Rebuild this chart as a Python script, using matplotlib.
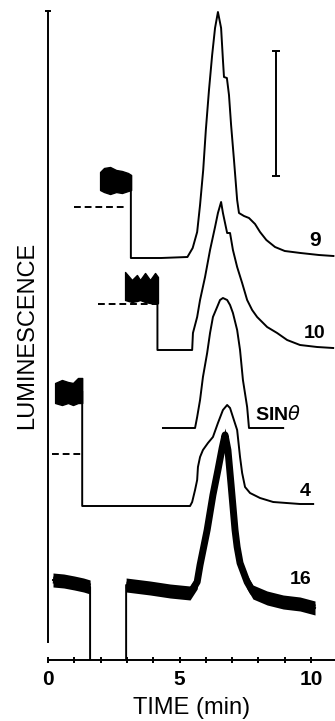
import matplotlib.pyplot as plt

# luminescence traces (time in min, luminescence in arbitrary units)
t9 = [3.15, 3.15, 4.3, 5.3, 5.5, 5.67, 5.78, 5.9, 6.0, 6.12, 6.24, 6.35, 6.46, 6.58, 6.65, 6.69, 6.8, 6.88,
      6.96, 7.07, 7.19, 7.26, 7.45, 7.64, 7.87, 8.06, 8.3, 8.63, 9.0, 9.6, 10.3, 10.85]
lum9 = [475, 402, 402, 403, 412, 428, 455, 490, 530, 570, 605, 632, 648, 632, 600, 583, 582, 565,
        535, 500, 460, 447, 444, 442, 436, 428, 420, 413, 409, 407, 405, 404]

t10 = [4.16, 4.16, 5.48, 5.51, 5.67, 5.78, 5.97, 6.16, 6.35, 6.46, 6.58, 6.65, 6.81, 6.92, 7.03, 7.19, 7.38,
       7.57, 7.76, 7.95, 8.33, 8.71, 9.09, 9.58, 10.23, 10.84]
lum10 = [375, 310, 310, 327, 343, 360, 383, 410, 433, 447, 458, 447, 427, 427, 410, 393, 377,
         360, 350, 343, 333, 327, 320, 315, 313, 312]

t_sin = [4.37, 5.59, 5.67, 5.78, 5.89, 6.05, 6.16, 6.27, 6.43, 6.54, 6.65, 6.81, 6.92, 7.03, 7.19, 7.3,
         7.41, 7.57, 7.64, 8.94]
lum_sin = [232, 232, 243, 260, 283, 307, 327, 343, 353, 360, 362, 360, 355, 347, 330, 310,
           280, 253, 232, 232]

t4 = [1.3, 1.3, 5.4, 5.48, 5.59, 5.67, 5.7, 5.78, 5.89, 6.08, 6.27, 6.46, 6.65, 6.81, 6.92, 7.03, 7.19,
      7.3, 7.38, 7.49, 7.68, 8.06, 8.56, 9.58, 10.08]
lum4 = [268, 154, 154, 158, 170, 180, 193, 203, 210, 217, 223, 237, 250, 255, 252, 243, 230,
        203, 187, 173, 167, 162, 158, 156, 156]

t16a = [0.19, 0.6, 1.0, 1.35, 1.6, 1.6]
lum16a = [80, 79, 77, 75, 73, 0]
t16b = [2.97, 2.97, 3.88, 4.64, 5.4, 5.67, 5.78, 6.05, 6.27, 6.46, 6.62, 6.73, 6.84, 6.96, 7.11, 7.19,
        7.3, 7.57, 7.79, 8.33, 8.94, 9.58, 10.15]
lum16b = [0, 75, 72, 69, 67, 78, 95, 130, 165, 190, 212, 225, 210, 175, 130, 113,
          97, 78, 68, 62, 58, 56, 52]

# noisy reference blocks (upper / lower edges)
blk9_t = [1.98, 2.13, 2.36, 2.59, 2.81, 3.04, 3.16]
blk9_hi = [488, 492, 493, 490, 489, 487, 485]
blk9_lo = [470, 468, 466, 468, 467, 469, 470]
blk10_t = [2.93, 3.19, 3.38, 3.5, 3.69, 3.88, 4.07, 4.18]
blk10_hi = [388, 380, 385, 380, 387, 380, 387, 383]
blk10_lo = [360, 358, 359, 360, 358, 357, 358, 357]
blk4_t = [0.27, 0.53, 0.76, 0.95, 1.14, 1.3]
blk4_hi = [277, 280, 278, 277, 282, 282]
blk4_lo = [257, 255, 257, 255, 257, 257]

# dashed zero levels
dash9 = ([1.0, 3.0], 453)
dash10 = ([1.9, 4.26], 356)
dash4 = ([0.15, 1.3], 206)

trace_labels = ['9', '10', 'SIN$\\theta$', '4', '16']
label_pos = [(10.15, 420), (10.12, 326), (7.85, 245), (9.77, 168), (9.62, 80)]

plt.rcParams['font.family'] = ['Liberation Sans', 'DejaVu Sans']

fig = plt.figure(figsize=(3.35, 7.21), dpi=100)
ax = fig.add_axes([48 / 335, 61 / 721, 287 / 335, 650 / 721])
ax.set_xlim(0, 10.91)
ax.set_ylim(0, 650)

lw = 1.4
for t, y in [(t9, lum9), (t10, lum10), (t_sin, lum_sin), (t4, lum4)]:
    ax.plot(t, y, color='black', lw=lw, solid_joinstyle='round')

for t, hi, lo in [(blk9_t, blk9_hi, blk9_lo), (blk10_t, blk10_hi, blk10_lo), (blk4_t, blk4_hi, blk4_lo)]:
    ax.fill_between(t, lo, hi, color='black', lw=1)

for xs, y in [dash9, dash10, dash4]:
    ax.plot(xs, [y, y], color='black', lw=lw, ls=(0, (3.5, 2)))

# thick noisy trace 16
for t, y in [(t16a, lum16a), (t16b, lum16b)]:
    ax.plot(t, y, color='black', lw=lw)
    body_t = [v for v, w in zip(t, y) if w > 0]
    body_y = [w for w in y if w > 0]
    ax.plot(body_t, body_y, color='black', lw=5, solid_capstyle='butt')
    ax.fill_between(body_t, [w - 7 for w in body_y], [w + 7 for w in body_y], color='black', lw=0)

# scale bar
ax.errorbar([8.67], [546], yerr=[[62], [63]], color='black', lw=lw, capsize=3, capthick=lw)

for txt, (x, y) in zip(trace_labels, label_pos):
    ax.text(x, y, txt, fontsize=15 if txt == '9' else 14, fontweight='bold',
            ha='left' if txt.startswith('SIN') else 'center', va='center')

ax.spines['top'].set_visible(False)
ax.spines['right'].set_visible(False)
ax.spines['left'].set_bounds(18, 649)
ax.spines['left'].set_linewidth(lw)
ax.spines['bottom'].set_linewidth(lw)
ax.plot([0], [649], marker='_', color='black', ms=5, mew=lw, clip_on=False)

ax.set_xticks([0, 5, 10])
ax.set_xticks(range(0, 11), minor=True)
ax.set_yticks([])
ax.tick_params(axis='x', which='both', direction='inout', length=5, width=lw, labelsize=15, pad=5)
for lab in ax.get_xticklabels():
    lab.set_fontweight('bold')

fig.text(27 / 335, 1 - 335 / 721, 'LUMINESCENCE', rotation=90, fontsize=17, ha='center', va='center')
fig.text(192 / 335, 1 - 708 / 721, 'TIME (min)', fontsize=17, ha='center', va='center')

fig.savefig('out.png', dpi=100)
